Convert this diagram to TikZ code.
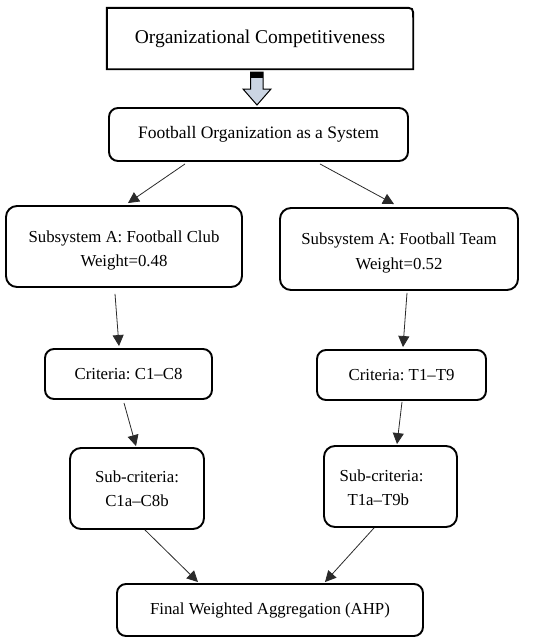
\documentclass[tikz,border=0pt]{standalone}
\usepackage{fontspec}
\setmainfont{Liberation Serif}
\usetikzlibrary{arrows.meta}
\definecolor{arrowfill}{HTML}{CBD5E3}
\definecolor{linkcol}{HTML}{2A2A2A}
\tikzset{
  box/.style={draw=black, line width=1.9pt, rounded corners=9pt, align=center, inner sep=0pt, font=\fontsize{16.8}{24.5}\selectfont},
  link/.style={draw=linkcol, line width=0.8pt, -{Triangle[length=11pt,width=11pt]}},
}
\begin{document}
\frenchspacing
\begin{tikzpicture}[x=1pt,y=-1pt]
\useasboundingbox (0,0) rectangle (550,641);
% top box (only top-right corner rounded)
\node[inner sep=0pt, minimum width=306pt, minimum height=61pt, font=\fontsize{19.5}{23}\selectfont] (top) at (260,38.5) {\raisebox{-2pt}{Organizational Competitiveness}};
\draw[line width=1.9pt] (top.south west) -- (top.north west) -- ([xshift=-10pt]top.north east) .. controls (top.north east) .. ([yshift=-10pt]top.north east) -- (top.south east) -- cycle;
% hollow arrow
\filldraw[fill=arrowfill, draw=black, line width=1pt] (250.5,72) -- (263,72) -- (263,89) -- (271,89) -- (257,105) -- (243,89) -- (250.5,89) -- cycle;
\fill[black] (250.5,72) rectangle (263,78);
% nodes
\node[box, minimum width=299pt, minimum height=53pt, font=\fontsize{17.5}{21}\selectfont] (sys) at (258.5,134.5) {\raisebox{-1.5pt}{Football Organization as a System}};
\node[box, rounded corners=11pt, minimum width=236pt, minimum height=81pt] (subA) at (124,246.5) {\rule{0pt}{20pt}Subsystem A: Football Club\\Weight=0.48};
\node[box, rounded corners=11pt, minimum width=238pt, minimum height=82pt] (subB) at (399,249) {\rule{0pt}{20pt}Subsystem A: Football Team\\Weight=0.52};
\node[box, minimum width=167pt, minimum height=50pt] (critA) at (128.5,374) {\raisebox{-1.5pt}{Criteria: C1–C8}};
\node[box, minimum width=169pt, minimum height=50pt] (critB) at (401.5,375) {\raisebox{-1.5pt}{Criteria: T1–T9}};
\node[box, rounded corners=11pt, minimum width=134pt, minimum height=81pt] (subcA) at (137,488.5) {Sub-criteria:\\C1a–C8b};
\node[box, rounded corners=11pt, minimum width=133pt, minimum height=81pt] (subcB) at (390.5,486.5) {};
\node[align=left, inner sep=0pt, font=\fontsize{16.8}{24.5}\selectfont] (subcBtext) at ([xshift=-9pt,yshift=-1pt]subcB.center) {Sub-criteria:\\\hspace*{8pt}T1a–T9b};
\node[box, minimum width=306pt, minimum height=52pt] (final) at (270,610) {\raisebox{-1.5pt}{Final Weighted Aggregation (AHP)}};
% connectors
\draw[link] ([xshift=-73.5pt,yshift=-2pt]sys.south) -- ([xshift=4pt,yshift=2pt]subA.north);
\draw[link] ([xshift=61.5pt,yshift=-2pt]sys.south) -- ([xshift=-5pt,yshift=3pt]subB.north);
\draw[link] ([xshift=-9pt,yshift=-6pt]subA.south) -- ([xshift=-9.5pt,yshift=2pt]critA.north);
\draw[link] ([xshift=8pt,yshift=-2pt]subB.south) -- ([xshift=1.5pt,yshift=2pt]critB.north);
\draw[link] ([xshift=-4.5pt,yshift=-3pt]critA.south) -- ([xshift=-1pt,yshift=1pt]subcA.north);
\draw[link] ([xshift=0.5pt,yshift=-1pt]critB.south) -- ([xshift=6.5pt,yshift=1pt]subcB.north);
\draw[link] ([xshift=8pt]subcA.south) -- ([xshift=-72pt,yshift=1pt]final.north);
\draw[link] ([xshift=-16.5pt]subcB.south) -- ([xshift=55pt,yshift=1pt]final.north);
\end{tikzpicture}
\end{document}
